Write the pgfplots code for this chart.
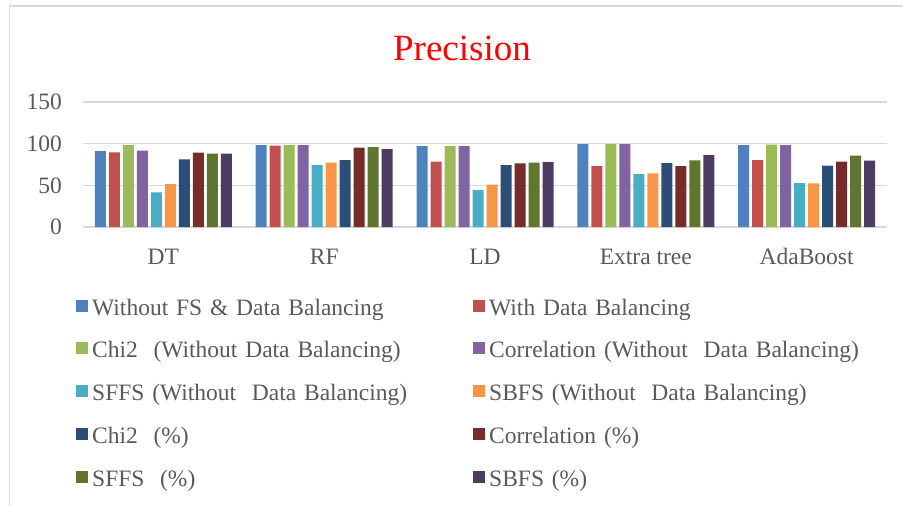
\documentclass[border=0pt]{standalone}
\usepackage{fontspec}
\setmainfont{Liberation Serif}
\usepackage{pgfplots}
\pgfplotsset{compat=1.18}
\definecolor{c1}{HTML}{4F81BD}
\definecolor{c2}{HTML}{C0504D}
\definecolor{c3}{HTML}{9BBB59}
\definecolor{c4}{HTML}{8064A2}
\definecolor{c5}{HTML}{4BACC6}
\definecolor{c6}{HTML}{F79646}
\definecolor{c7}{HTML}{2C4D75}
\definecolor{c8}{HTML}{772C2A}
\definecolor{c9}{HTML}{5F7530}
\definecolor{c10}{HTML}{4D3B62}
\definecolor{txt}{HTML}{595959}
\definecolor{gridc}{HTML}{D9D9D9}
\begin{document}
\begin{tikzpicture}
\path[use as bounding box] (-83bp,-279bp) rectangle (820bp,227bp);
\draw[gridc, line width=1.5bp] (-73.5bp,-285bp) -- (-73.5bp,221bp) -- (830bp,221bp);
\begin{axis}[
  at={(0,0)}, anchor=south west,
  scale only axis, width=804bp, height=125bp,
  clip=false,
  xmin=-0.5, xmax=4.5, ymin=0, ymax=150,
  ybar=3bp, bar width=11bp,
  xtick={0,1,2,3,4},
  xticklabels={DT,RF,LD,Extra tree,AdaBoost},
  ytick={0,50,100,150},
  ymajorgrids, grid style={gridc, line width=1.3bp},
  axis line style={draw=none},
  major tick length=0pt,
  /pgf/number format/assume math mode=true,
  tick label style={font=\fontsize{23.5bp}{26bp}\selectfont, text=txt},
  xticklabel style={anchor=base, yshift=-37bp},
  yticklabel style={anchor=east, inner xsep=0pt, xshift=-21bp},
  legend columns=2,
  legend style={at={(-0.0087,-0.576)}, anchor=north west, draw=none, fill=none,
    inner xsep=0pt, inner ysep=0pt, row sep=21.75bp,
    font=\fontsize{23.5bp}{26bp}\selectfont, text=txt,
    nodes={text width=377bp, align=left, inner xsep=4bp, inner ysep=0pt, text height=16bp, text depth=5bp},
    /tikz/every even column/.append style={column sep=0pt}},
  legend image code/.code={\fill[#1, draw=none] (0bp,-2bp) rectangle (12bp,10bp);},
]
\addplot[fill=c1, draw=none] coordinates {(0,91.2) (1,98.4) (2,97.2) (3,99.6) (4,98.4)};
\addplot[fill=c2, draw=none] coordinates {(0,89.6) (1,97.6) (2,78.4) (3,73.2) (4,80.4)};
\addplot[fill=c3, draw=none] coordinates {(0,98.4) (1,98.4) (2,97.2) (3,99.6) (4,98.8)};
\addplot[fill=c4, draw=none] coordinates {(0,91.6) (1,98.4) (2,97.2) (3,99.6) (4,98.4)};
\addplot[fill=c5, draw=none] coordinates {(0,41.6) (1,74.4) (2,44.4) (3,63.6) (4,52.8)};
\addplot[fill=c6, draw=none] coordinates {(0,51.6) (1,77.2) (2,50.8) (3,64.4) (4,52.4)};
\addplot[fill=c7, draw=none] coordinates {(0,81.2) (1,80.4) (2,74.4) (3,76.8) (4,73.6)};
\addplot[fill=c8, draw=none] coordinates {(0,89.2) (1,95.2) (2,76.4) (3,73.2) (4,78.4)};
\addplot[fill=c9, draw=none] coordinates {(0,88.0) (1,96.0) (2,77.2) (3,80.0) (4,85.6)};
\addplot[fill=c10, draw=none] coordinates {(0,88.0) (1,93.6) (2,78.0) (3,86.4) (4,79.6)};
\legend{Without FS \& Data Balancing, With Data Balancing,
  Chi2\ \ (Without Data Balancing), Correlation (Without\ \ Data Balancing),
  SFFS (Without\ \ Data Balancing), SBFS (Without\ \ Data Balancing),
  Chi2\ \ (\%), Correlation (\%),
  SFFS\ \ (\%), SBFS (\%)}
\node[anchor=base, text=red, font=\fontsize{37bp}{40bp}\selectfont] at ([yshift=42bp]axis description cs:0.4714,1) {Precision};
\end{axis}
\end{tikzpicture}
\end{document}
